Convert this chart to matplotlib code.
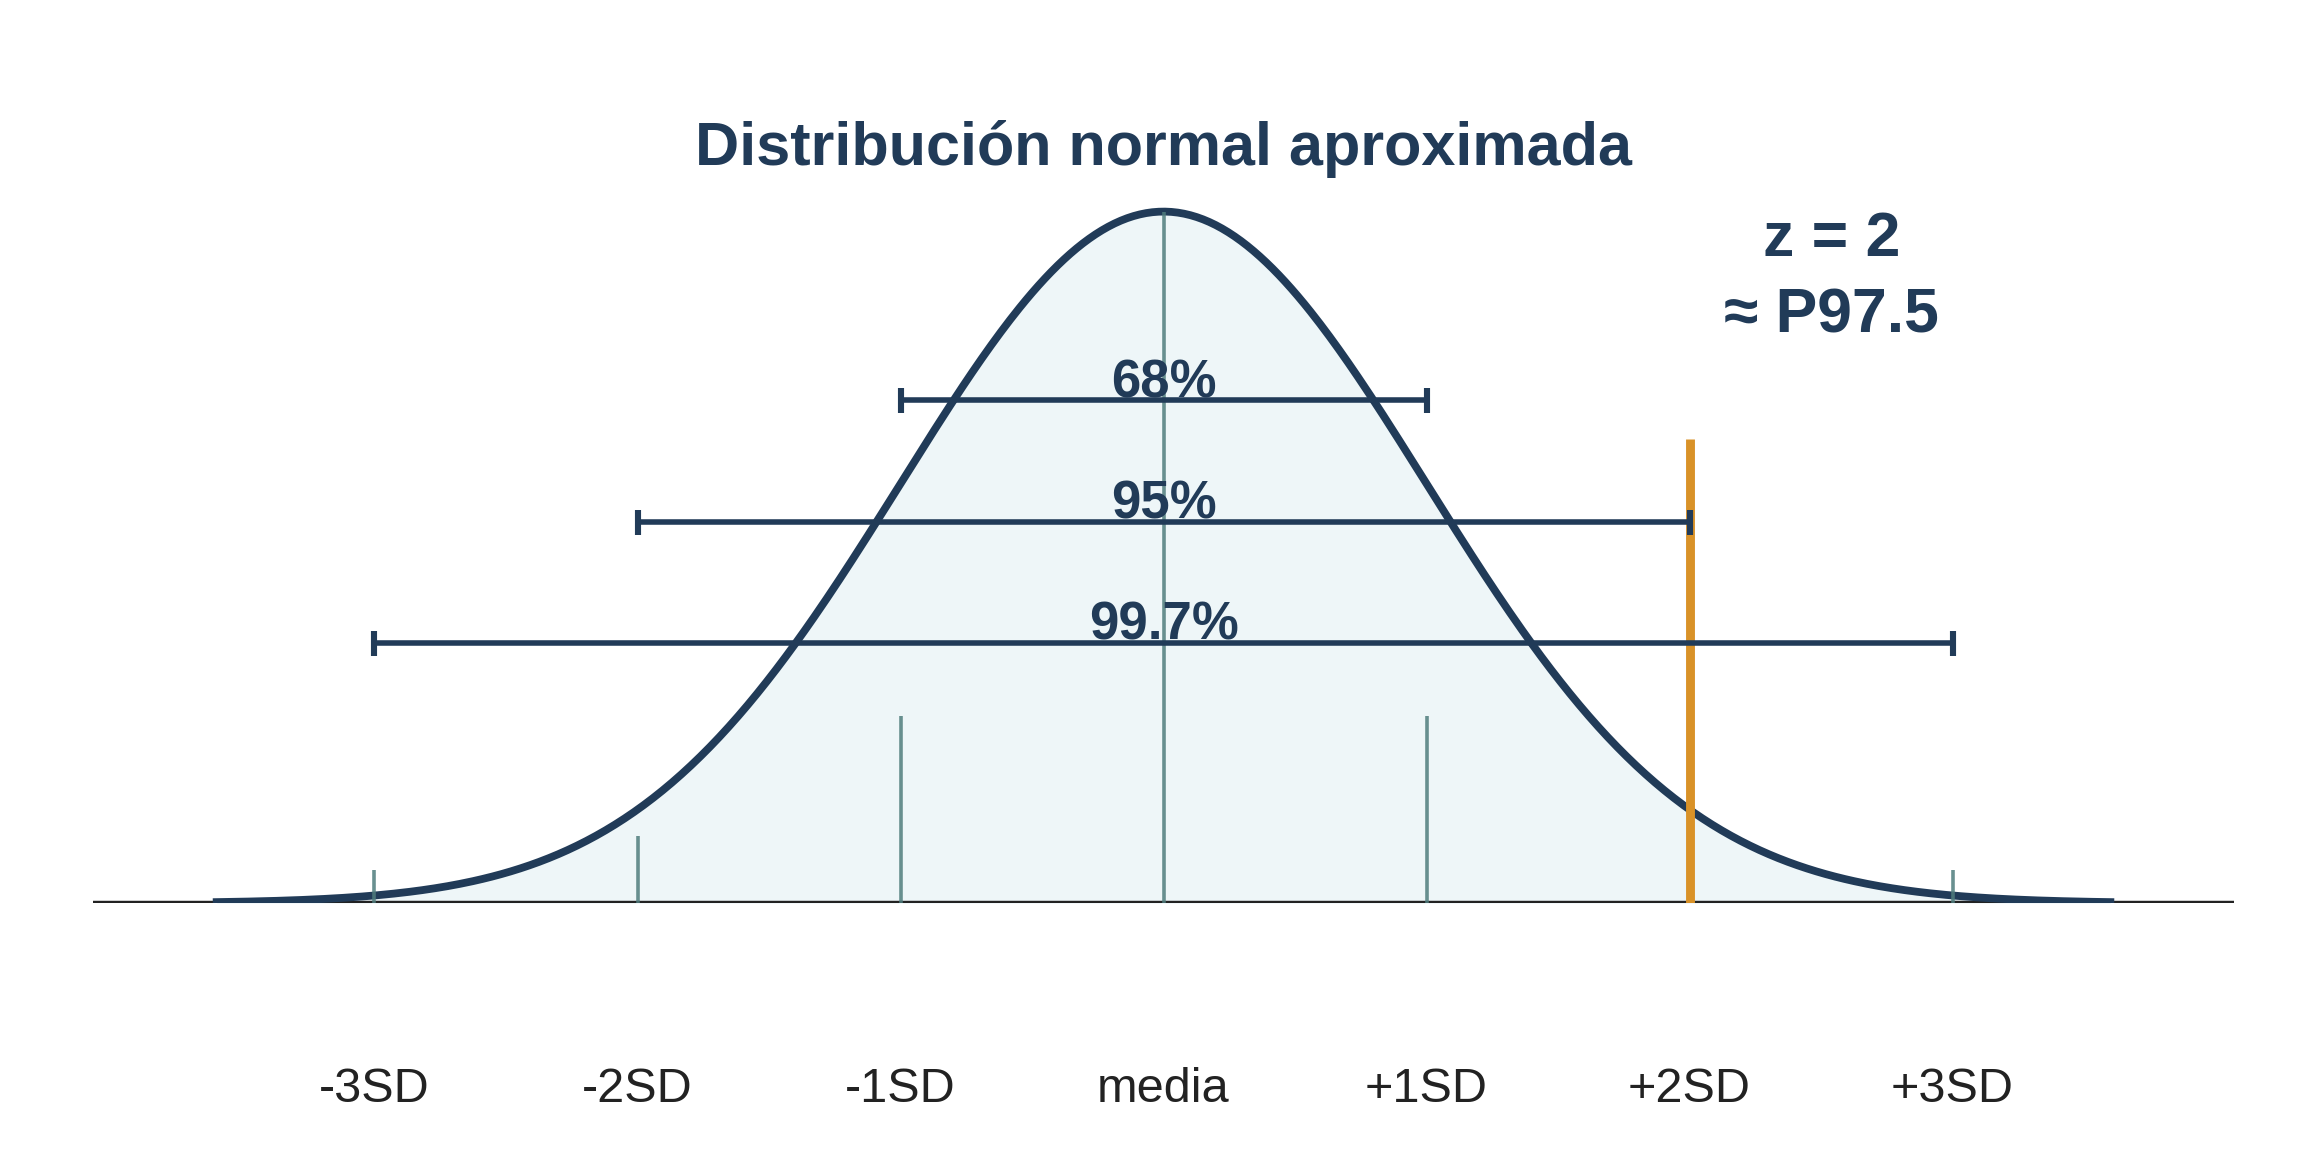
import numpy as np
import matplotlib.pyplot as plt

plt.rcParams['font.family'] = ['Liberation Sans', 'DejaVu Sans']

# datos
sd_pos = [-3, -2, -1, 0, 1, 2, 3]
sd_labels = ['-3SD', '-2SD', '-1SD', 'media', '+1SD', '+2SD', '+3SD']
guia_alto = [0.019, 0.039, 0.108, 0.3989, 0.108, 0.039, 0.019]  # altura de las lineas guia

intervalo_k = [1, 2, 3]
intervalo_txt = ['68%', '95%', '99.7%']
intervalo_y = [0.29, 0.22, 0.15]

z = 2
z_alto = 0.268
percentil = 97.5

azul = '#213b58'
relleno = '#eef6f8'
guia = '#4f7d7d'
naranja = '#d99228'

x = np.linspace(-3.6, 3.6, 600)
pdf = lambda t: np.exp(-t**2 / 2) / np.sqrt(2*np.pi)  # normal estandar
y = pdf(x)

fig = plt.figure(figsize=(11.52, 5.76), dpi=200)
ax = fig.add_axes([0.0404, 0.2160, 0.9292, 0.7840])
ax.set_xlim(-4.07, 4.07)
ax.set_ylim(0, 0.521)

ax.fill_between(x, 0, y, color=relleno, lw=0, zorder=1)
ax.plot(x, y, color=azul, lw=2.8, zorder=3)

# lineas guia en cada SD
ax.vlines(sd_pos, 0, guia_alto, color=guia, lw=1.3, alpha=0.85, zorder=4)

# intervalos
for k, txt, yy in zip(intervalo_k, intervalo_txt, intervalo_y):
    ax.errorbar(0, yy, xerr=k, fmt='none', ecolor=azul, elinewidth=2.0,
                capsize=4.5, capthick=2.2, zorder=5)
    ax.annotate(txt, (0, yy), xytext=(0, 1.2), textcoords='offset points',
                ha='center', va='baseline', fontsize=19, fontweight='bold',
                color=azul, zorder=6)

# z = 2
ax.vlines(z, 0, z_alto, color=naranja, lw=3.2, zorder=4)
ax.text(2.54, 0.383, 'z = %d' % z, ha='center', va='center', fontsize=22.5,
        fontweight='bold', color=azul)
ax.text(2.54, 0.339, '≈ P%.1f' % percentil, ha='center', va='center', fontsize=22.5,
        fontweight='bold', color=azul)

ax.text(0, 0.435, 'Distribución normal aproximada', ha='center', va='center',
        fontsize=22, fontweight='bold', color=azul)

# eje
ax.axhline(0, color='#222222', lw=1.6, zorder=2)
for s in ax.spines.values():
    s.set_visible(False)
ax.set_yticks([])
ax.set_xticks(sd_pos)
ax.set_xticklabels(sd_labels, fontsize=17.5, color='#222222')
ax.tick_params(axis='x', length=0, pad=59)

fig.savefig('out.png', dpi=200)
